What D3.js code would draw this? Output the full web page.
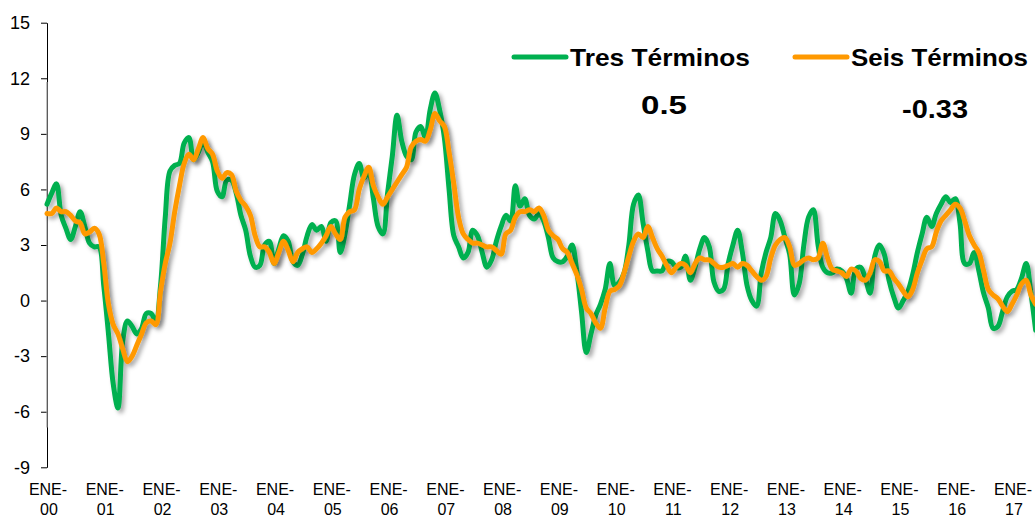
<!DOCTYPE html>
<html><head><meta charset="utf-8">
<script src="https://cdn.jsdelivr.net/npm/d3@7"></script>
<style>html,body{margin:0;padding:0;background:#fff;overflow:hidden}</style>
</head><body>
<svg id="chart" width="1035" height="518"></svg>
<script>
// Monthly values, Jan 2000 onward
const tresTerminos = [
 5.2,5.8,6.3,4.6,3.9,3.3,4.0,4.8,4.0,3.1,2.9,2.9,
 0.8,-1.8,-4.5,-5.8,-2.2,-1.1,-1.4,-1.8,-1.5,-0.7,-0.7,-1.1,
 0.8,4.5,7.0,7.3,7.4,8.5,8.8,7.6,8.0,8.6,8.0,7.5,
 5.9,5.6,6.5,6.5,5.8,4.6,3.8,2.4,1.8,1.9,3.0,3.2,
 2.0,2.8,3.5,3.2,2.1,1.9,2.5,3.5,4.1,3.8,4.0,3.2,
 4.2,4.3,2.6,3.6,5.2,6.8,7.4,6.6,7.0,5.5,4.0,3.6,
 5.8,7.8,10.0,8.6,7.8,7.6,9.1,9.4,8.8,10.3,11.2,10.3,
 8.8,6.0,3.5,2.9,2.3,2.6,3.8,3.5,2.6,1.8,2.2,3.2,
 4.0,4.6,4.3,6.2,5.1,5.5,4.6,4.4,4.7,4.3,3.4,2.3,
 2.1,2.1,2.4,3.0,1.6,-0.6,-2.8,-1.8,-0.8,-0.2,0.6,2.0,
 0.8,1.0,1.5,3.0,5.2,5.7,4.2,2.7,1.6,1.6,1.6,2.1,
 2.1,1.8,1.8,2.4,1.1,1.8,2.8,3.4,2.9,1.0,0.5,0.6,
 2.0,3.0,3.8,2.6,0.8,0.0,-0.3,1.5,2.6,3.4,4.7,4.3,
 3.4,2.5,0.3,0.9,3.0,4.5,4.9,3.0,1.8,1.5,1.5,1.7,
 1.6,1.2,0.4,1.7,1.8,1.2,0.4,2.4,3.0,2.5,1.1,0.2,
 -0.4,0.0,0.5,1.4,2.6,3.6,4.5,4.0,4.7,5.2,5.6,5.3,
 5.5,4.2,2.0,2.0,2.6,1.6,0.4,-0.4,-1.5,-1.4,-0.6,0.2,
 0.5,0.6,1.2,2.0,0.4,-1.6
];
const seisTerminos = [
 4.7,4.7,5.0,4.8,4.8,4.6,4.3,4.2,3.6,3.7,3.9,3.6,
 2.0,-0.2,-1.3,-1.8,-2.6,-3.3,-3.0,-2.4,-1.8,-1.2,-1.1,-1.3,
 0.5,2.0,3.1,4.8,6.2,7.4,7.9,7.6,8.2,8.8,8.2,7.9,
 7.0,6.6,6.9,6.8,5.9,5.4,5.1,4.6,3.5,2.9,2.9,2.6,
 2.0,2.6,3.2,2.7,2.1,2.6,2.8,2.9,2.6,2.8,3.1,3.5,
 4.0,3.6,3.3,4.5,4.8,4.9,6.0,6.7,7.2,6.2,5.6,5.2,
 5.6,6.0,6.4,6.8,7.2,8.3,8.6,8.7,8.6,9.2,10.1,9.7,
 9.4,8.0,6.3,4.5,3.6,3.3,3.1,3.1,3.0,2.9,2.9,2.7,
 2.5,3.6,3.8,4.5,4.8,4.8,4.9,4.8,5.0,4.6,3.8,3.5,
 3.3,2.8,2.6,2.0,1.4,0.6,-0.4,-0.7,-1.2,-1.5,-0.4,0.5,
 0.6,0.8,1.5,2.4,3.2,3.6,3.4,4.0,3.4,2.8,2.4,1.9,
 1.5,1.8,2.0,1.9,1.5,2.0,2.3,2.2,2.2,2.0,1.8,1.8,
 1.9,2.0,1.8,2.0,1.9,1.6,1.3,1.1,1.3,2.3,3.0,3.3,
 3.4,2.9,1.9,2.0,2.2,2.3,2.2,2.3,3.1,2.3,1.7,1.6,
 1.5,1.3,1.7,1.6,1.2,1.1,1.5,2.2,2.1,1.6,1.6,1.2,
 0.9,0.5,0.2,0.6,1.5,2.2,2.8,2.9,3.7,4.3,4.6,4.9,
 5.2,5.0,4.3,3.5,3.0,2.6,1.6,0.6,0.3,0.1,-0.3,-0.6,
 -0.2,0.3,0.9,1.1,0.3,-0.2
];
const yTicks = [15, 12, 9, 6, 3, 0, -3, -6, -9];
const xTickLabels = ["ENE-00","ENE-01","ENE-02","ENE-03","ENE-04","ENE-05","ENE-06","ENE-07","ENE-08",
  "ENE-09","ENE-10","ENE-11","ENE-12","ENE-13","ENE-14","ENE-15","ENE-16","ENE-17"];
const seriesNames = ["Tres Términos", "Seis Términos"];
const seriesLatest = ["0.5", "-0.33"];
const seriesColors = ["#00B050", "#FF9900"];

const svg = d3.select("#chart");
const FONT = "Arial, 'Liberation Sans', sans-serif";

const x = d3.scaleLinear().domain([0, 204]).range([47, 1012]);
const y = d3.scaleLinear().domain([-9, 15]).range([467.3, 22.7]);

// shadow filter
const defs = svg.append("defs");
const f = defs.append("filter").attr("id", "shadow").attr("x", "-5%").attr("y", "-5%").attr("width", "110%").attr("height", "120%");
f.append("feDropShadow").attr("dx", 3).attr("dy", 3).attr("stdDeviation", 2)
  .attr("flood-color", "#000").attr("flood-opacity", 0.33);

// Y axis
const yAxis = svg.append("g").attr("transform", `translate(${x(0)},0)`)
  .call(d3.axisLeft(y).tickValues(yTicks).tickSize(6).tickSizeOuter(0).tickPadding(11).tickFormat(d => String(d)));
yAxis.select(".domain").attr("stroke", "#000").attr("stroke-width", 1);
yAxis.selectAll(".tick line").attr("stroke", "#000");
yAxis.selectAll(".tick text").attr("font-family", FONT).attr("font-size", 18).attr("fill", "#000");
// gray middle portion of the axis line
svg.append("line").attr("x1", x(0)).attr("x2", x(0)).attr("y1", y(11.8)).attr("y2", y(-6.85))
  .attr("stroke", "#9a9a9a").attr("stroke-width", 1.2);

// X labels
const xl = svg.append("g").attr("font-family", FONT).attr("font-size", 16).attr("fill", "#000").attr("text-anchor", "middle");
xTickLabels.forEach((lab, k) => {
  const t = xl.append("text").attr("x", x(k * 12) + 1);
  t.append("tspan").attr("x", x(k * 12) + 1).attr("y", 495).text(lab.slice(0, 4));
  t.append("tspan").attr("x", x(k * 12) + 2).attr("y", 515).text(lab.slice(4));
});

// Lines
const line = d3.line().x((d, i) => x(i)).y(d => y(d)).curve(d3.curveCatmullRom.alpha(0.5));
[tresTerminos, seisTerminos].forEach((s, j) => {
  svg.append("path").datum(s).attr("d", line).attr("fill", "none")
    .attr("stroke", seriesColors[j]).attr("stroke-width", 5).attr("stroke-linejoin", "round")
    .attr("stroke-linecap", "round").attr("filter", "url(#shadow)");
});

// Legend
const legX = [514, 795];
const legW = [180, 177];
const valX = [664, 935];
const valY = [114, 118];
const valW = [46, 66];
seriesNames.forEach((name, j) => {
  const g = svg.append("g");
  g.append("line").attr("x1", legX[j]).attr("x2", legX[j] + 52).attr("y1", 57).attr("y2", 57)
    .attr("stroke", seriesColors[j]).attr("stroke-width", 5).attr("stroke-linecap", "round");
  g.append("text").attr("x", legX[j] + 56).attr("y", 66).attr("font-family", FONT)
    .attr("font-size", 24).attr("font-weight", "bold").attr("fill", "#000")
    .attr("textLength", legW[j]).attr("lengthAdjust", "spacingAndGlyphs").text(name);
  g.append("text").attr("x", valX[j] - valW[j] / 2).attr("y", valY[j]).attr("font-family", FONT)
    .attr("font-size", 25).attr("font-weight", "bold").attr("fill", "#000")
    .attr("textLength", valW[j]).attr("lengthAdjust", "spacingAndGlyphs")
    .text(seriesLatest[j]);
});
</script>
</body></html>
